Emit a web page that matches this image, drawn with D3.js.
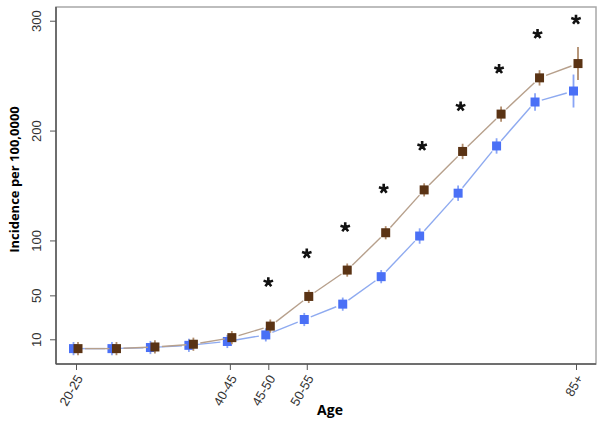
<!DOCTYPE html>
<html>
<head>
<meta charset="utf-8">
<script src="https://cdn.jsdelivr.net/npm/d3@7"></script>
<style>
  body { margin: 0; background: #fff; }
  svg { display: block; font-family: "Open Sans", "DejaVu Sans", sans-serif; }
  .tick text { fill: #333; font-size: 13px; }
</style>
</head>
<body>
<div id="chart"></div>
<script>
// age groups and incidence per 100,000
const ages = ['20-25','25-30','30-35','35-40','40-45','45-50','50-55','55-60','60-65','65-70','70-75','75-80','80-85','85+'];
const blueVals  = [1.5, 1.5, 2.5, 4.5, 8, 14, 28, 42, 67, 104, 143, 186, 226, 236];
const blueErr   = [6, 6, 6, 6, 6, 6, 6, 6, 6, 7, 7, 7, 8, 15];
const brownVals = [1.5, 1.5, 3, 5.5, 11.5, 22, 49, 73, 107, 146, 181, 215, 248, 261];
const brownErr  = [6, 6, 6, 6, 6, 6, 6, 6, 6, 6, 7, 7, 7, 15];
// significance markers
const starAges = ['45-50','50-55','55-60','60-65','65-70','70-75','75-80','80-85','85+'];
const starVals = [62, 88, 112, 147, 186, 222, 256, 288, 301];

const xTickLabels = ['20-25','40-45','45-50','50-55','85+'];
const yTickValues = [10, 50, 100, 200, 300];

const width = 604, height = 426;
const plot = { left: 56, top: 7, right: 596, bottom: 364 };

const svg = d3.select('#chart').append('svg')
  .attr('width', width)
  .attr('height', height);

const x = d3.scalePoint().domain(ages).range([76, 576]);
const y = d3.scaleLinear().domain([-12.5, 312.5]).range([plot.bottom, plot.top]);

// frame
svg.append('rect')
  .attr('x', plot.left).attr('y', plot.top)
  .attr('width', plot.right - plot.left).attr('height', plot.bottom - plot.top)
  .attr('fill', 'none').attr('stroke', '#a8a8a8').attr('stroke-width', 1.5);

// axes
const yAxis = svg.append('g')
  .attr('transform', `translate(${plot.left},0)`)
  .call(d3.axisLeft(y).tickValues(yTickValues).tickSize(6).tickSizeOuter(0));
yAxis.select('.domain').remove();
yAxis.selectAll('.tick line').attr('stroke', '#555');
yAxis.selectAll('.tick text')
  .attr('transform', 'rotate(-90)')
  .attr('x', 0).attr('y', -15).attr('dy', 0)
  .attr('text-anchor', 'middle');

const xAxis = svg.append('g')
  .attr('transform', `translate(0,${plot.bottom})`)
  .call(d3.axisBottom(x).tickValues(xTickLabels).tickSize(6).tickSizeOuter(0));
xAxis.select('.domain').remove();
xAxis.selectAll('.tick line').attr('stroke', '#555');
xAxis.selectAll('.tick text')
  .attr('x', 0).attr('y', 0).attr('dy', '0.35em')
  .attr('transform', 'translate(3,12) rotate(-60)')
  .attr('text-anchor', 'end');

svg.append('line')
  .attr('x1', plot.left).attr('x2', plot.left)
  .attr('y1', plot.top).attr('y2', plot.bottom)
  .attr('stroke', '#555').attr('stroke-width', 1.5);
svg.append('line')
  .attr('x1', plot.left).attr('x2', plot.right)
  .attr('y1', plot.bottom).attr('y2', plot.bottom)
  .attr('stroke', '#555').attr('stroke-width', 1.5);

// axis titles
svg.append('text')
  .attr('transform', `translate(19,${(plot.top + plot.bottom) / 2 - 6}) rotate(-90)`)
  .attr('text-anchor', 'middle')
  .style('font-size', '13px').style('font-weight', 'bold')
  .text('Incidence per 100,0000');

svg.append('text')
  .attr('x', 330).attr('y', 415)
  .attr('text-anchor', 'middle')
  .style('font-size', '14px').style('font-weight', 'bold')
  .text('Age');

// series
const series = [
  { vals: blueVals, err: blueErr, dx: -2.5, marker: '#4a70f6', bar: '#88a4f6', line: '#8eaaf0' },
  { vals: brownVals, err: brownErr, dx: 2, marker: '#5a3314', bar: '#b08c6c', line: '#b7a08c' }
];

const gap = 7;
series.forEach(s => {
  const pts = ages.map((a, i) => ({ x: x(a) + s.dx, y: y(s.vals[i]), e: s.err[i] }));
  const segs = d3.pairs(pts);
  const g = svg.append('g');

  g.selectAll('line.seg')
    .data(segs)
    .join('line')
    .attr('class', 'seg')
    .each(function([a, b]) {
      const dx = b.x - a.x, dy = b.y - a.y;
      const len = Math.hypot(dx, dy);
      const ux = dx / len, uy = dy / len;
      d3.select(this)
        .attr('x1', a.x + ux * gap).attr('y1', a.y + uy * gap)
        .attr('x2', b.x - ux * gap).attr('y2', b.y - uy * gap);
    })
    .attr('stroke', s.line)
    .attr('stroke-width', 1.4);

  g.selectAll('line.err')
    .data(pts)
    .join('line')
    .attr('class', 'err')
    .attr('x1', d => d.x).attr('x2', d => d.x)
    .attr('y1', d => d.y - d.e * 1.1).attr('y2', d => d.y + d.e * 1.1)
    .attr('stroke', s.bar)
    .attr('stroke-width', 1.8);

  g.selectAll('rect')
    .data(pts)
    .join('rect')
    .attr('x', d => d.x - 4.5).attr('y', d => d.y - 4.5)
    .attr('width', 9).attr('height', 9)
    .attr('fill', s.marker);
});

// five-armed asterisk
function asterisk(r) {
  const p = d3.path();
  for (let k = 0; k < 5; k++) {
    const a = -Math.PI / 2 + k * 2 * Math.PI / 5;
    p.moveTo(0, 0);
    p.lineTo(r * Math.cos(a), r * Math.sin(a));
  }
  return p.toString();
}

svg.append('g')
  .selectAll('path')
  .data(starAges.map((a, i) => ({ a, v: starVals[i] })))
  .join('path')
  .attr('transform', d => `translate(${x(d.a)},${y(d.v)})`)
  .attr('d', asterisk(5))
  .attr('stroke', '#111')
  .attr('stroke-width', 2.6)
  .attr('fill', 'none');
</script>
</body>
</html>
